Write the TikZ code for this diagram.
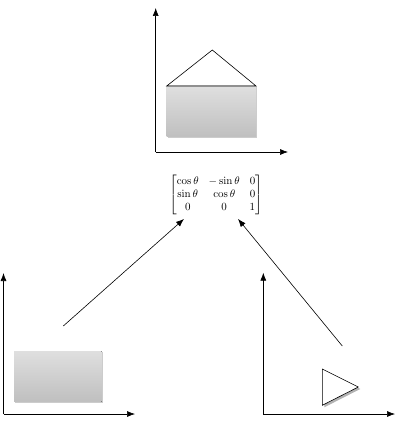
\documentclass[tikz,border=0pt]{standalone}
\usepackage{amsmath}
\usetikzlibrary{arrows.meta,shadows,calc}
\tikzset{
  axis/.style={line width=0.6pt,-{Latex[length=8pt,width=6pt]}},
  conn/.style={line width=0.6pt,-{Latex[length=8pt,width=6pt]}},
  block/.style={draw=none,top color=gray!25,bottom color=gray!50,
    drop shadow={shadow xshift=1pt,shadow yshift=-1pt,opacity=0.4}},
  tri/.style={draw,line width=0.6pt,fill=white,
    drop shadow={shadow xshift=2pt,shadow yshift=-2pt,opacity=0.6}}
}
\begin{document}
\begin{tikzpicture}[x=1pt,y=-1pt]
\useasboundingbox (0,0) rectangle (409,422);

% top: house
\draw[axis] (155.7,152) -- (155.7,8);
\draw[axis] (155.7,152) -- (288,152);
\fill[block] (166.7,86) rectangle (256,137);
\draw[line width=0.6pt] (166.7,86) -- (212.3,50) -- (256,86) -- cycle;

% rotation matrix
\node[inner sep=2pt,font=\fontsize{11}{13}\selectfont] (rot) at (216,195)
  {$\begin{bmatrix}\cos\theta & -\sin\theta & 0\\ \sin\theta & \cos\theta & 0\\ 0 & 0 & 1\end{bmatrix}$};

% bottom left: rectangle
\draw[axis] (3.5,414) -- (3.5,273);
\draw[axis] (3.5,414) -- (135,414);
\fill[block] (14,351) rectangle (101.7,401.7);

% bottom right: triangle
\draw[axis] (263.3,414) -- (263.3,272.7);
\draw[axis] (263.3,414) -- (395,414);
\draw[tri] (322.3,369) -- (358.3,387) -- (322.3,405.3) -- cycle;

% connectors
\coordinate (lstart) at (63.3,326);
\coordinate (rstart) at (342.3,346);
\draw[conn] (lstart) -- ([xshift=-32pt,yshift=-2pt]rot.south);
\draw[conn] (rstart) -- ([xshift=22pt,yshift=-2pt]rot.south);
\end{tikzpicture}
\end{document}
